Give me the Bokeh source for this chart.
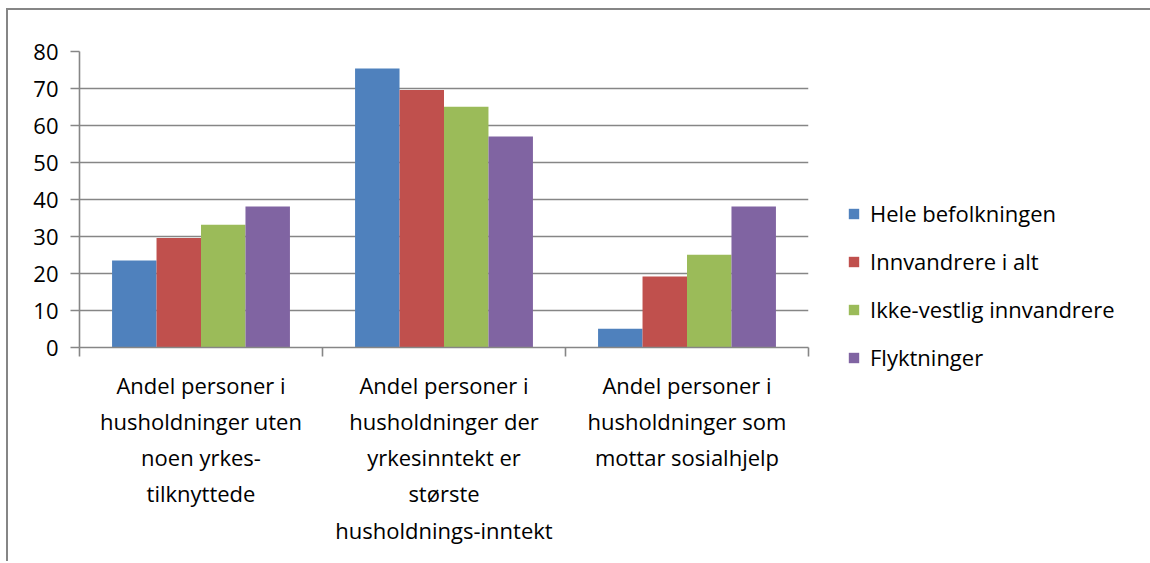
from bokeh.plotting import figure
from bokeh.models import Range1d, FixedTicker, Legend, LegendItem, ColumnDataSource
from bokeh.transform import dodge
from bokeh.embed import file_html
from bokeh.resources import INLINE

# ---- data ----
categories = [
    "Andel personer i\nhusholdninger uten\nnoen yrkes-\ntilknyttede",
    "Andel personer i\nhusholdninger der\nyrkesinntekt er\nstørste\nhusholdnings-inntekt",
    "Andel personer i\nhusholdninger som\nmottar sosialhjelp",
]
series_names = ["Hele befolkningen", "Innvandrere i alt", "Ikke-vestlig innvandrere", "Flyktninger"]
hele = [23.5, 75.4, 5.1]
innvandrere = [29.6, 69.6, 19.2]
ikke_vestlig = [33.2, 65.1, 25.1]
flyktninger = [38.1, 57.0, 38.1]
y_ticks = [0, 10, 20, 30, 40, 50, 60, 70, 80]

colors = ["#4F81BD", "#C0504D", "#9BBB59", "#8064A2"]
FONT = "Open Sans"
FS = "22px"
GRAY = "#868686"

n = len(categories)
xs = [i + 0.5 for i in range(n)]
src = ColumnDataSource(dict(x=xs, s0=hele, s1=innvandrere, s2=ikke_vestlig, s3=flyktninger))

p = figure(frame_width=729, frame_height=296, output_backend="svg", toolbar_location=None,
           x_range=Range1d(0, n), y_range=Range1d(0, 80),
           min_border_left=71, min_border_right=306,
           min_border_top=41, min_border_bottom=214)
p.styles = {"border-left": "2px solid #868686", "border-top": "2px solid #868686",
            "margin-left": "6px", "margin-top": "8px"}
p.outline_line_color = None
p.background_fill_color = "white"
p.border_fill_color = "white"

bw = 0.183
offsets = [-1.5 * bw, -0.5 * bw, 0.5 * bw, 1.5 * bw]
renderers = []
for k, col in enumerate(["s0", "s1", "s2", "s3"]):
    r = p.vbar(x=dodge("x", offsets[k], range=p.x_range), top=col, width=bw, bottom=0,
               source=src, fill_color=colors[k], line_color=None)
    renderers.append(r)

# grid
p.xgrid.visible = False
p.ygrid.ticker = FixedTicker(ticks=y_ticks)
p.ygrid.grid_line_color = GRAY
p.ygrid.grid_line_width = 1.6

# y axis
p.yaxis.ticker = FixedTicker(ticks=y_ticks)
p.yaxis.axis_line_color = GRAY
p.yaxis.axis_line_width = 1.6
p.yaxis.major_tick_line_color = GRAY
p.yaxis.major_tick_line_width = 1.6
p.yaxis.major_tick_out = 9
p.yaxis.major_tick_in = 0
p.yaxis.minor_tick_line_color = None
p.yaxis.major_label_text_font = FONT
p.yaxis.major_label_text_font_size = FS
p.yaxis.major_label_text_color = "#000000"
p.yaxis.major_label_standoff = 12

# x axis: labels at category centres, separator ticks at boundaries (minor ticks)
p.xaxis.ticker = FixedTicker(ticks=xs, minor_ticks=list(range(n + 1)))
p.xaxis.major_label_overrides = {x: c for x, c in zip(xs, categories)}
p.xaxis.axis_line_color = GRAY
p.xaxis.axis_line_width = 1.6
p.xaxis.major_tick_line_color = None
p.xaxis.major_tick_out = 0
p.xaxis.major_tick_in = 0
p.xaxis.minor_tick_line_color = GRAY
p.xaxis.minor_tick_line_width = 1.6
p.xaxis.minor_tick_out = 9
p.xaxis.minor_tick_in = 0
p.xaxis.major_label_text_font = FONT
p.xaxis.major_label_text_font_size = FS
p.xaxis.major_label_text_color = "#000000"
p.xaxis.major_label_text_line_height = 1.21
p.xaxis.major_label_standoff = 13

legend = Legend(items=[LegendItem(label=nm, renderers=[r]) for nm, r in zip(series_names, renderers)],
                location=(39, -25), orientation="vertical",
                border_line_color=None, background_fill_alpha=0,
                label_text_font=FONT, label_text_font_size=FS, label_text_color="#000000",
                glyph_width=13, glyph_height=13, label_standoff=10, spacing=18,
                padding=0, margin=0)
p.add_layout(legend, "right")

open("out.html", "w").write(file_html(p, INLINE))
